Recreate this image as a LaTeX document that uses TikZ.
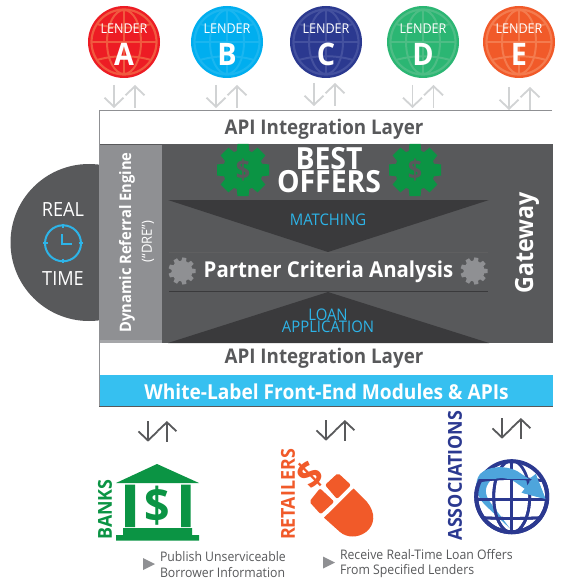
\documentclass[tikz,border=0pt]{standalone}
\usepackage{fontspec}
\usetikzlibrary{arrows.meta}
\setmainfont[FakeStretch=0.93]{Open Sans}
\definecolor{panel}{HTML}{58595B}
\definecolor{strip}{HTML}{8F9093}
\definecolor{tri}{HTML}{3A3A3C}
\definecolor{sky}{HTML}{2DB4E8}
\definecolor{band}{HTML}{36C0F0}
\definecolor{gr}{HTML}{0B9444}
\definecolor{org}{HTML}{F15A29}
\definecolor{nvy}{HTML}{2B3990}
\definecolor{lite}{HTML}{D1D3D4}
\definecolor{swoosh}{HTML}{4EA5DC}
\definecolor{la}{HTML}{ED1C24}\definecolor{lag}{HTML}{F1593F}
\definecolor{lb}{HTML}{00AEEF}\definecolor{lbg}{HTML}{1AB6F0}
\definecolor{lc}{HTML}{2B3990}\definecolor{lcg}{HTML}{44519F}
\definecolor{ld}{HTML}{2BB673}\definecolor{ldg}{HTML}{4DBD85}
\definecolor{le}{HTML}{F15A29}\definecolor{leg}{HTML}{F47B4E}
\newcommand{\fs}[1]{\fontsize{#1}{#1}\selectfont}
\tikzset{
 x=1pt,y=-1pt,
 every node/.style={inner sep=0pt,outer sep=0pt,align=center},
 lbl/.style={text=panel,font=\fs{20.2}\bfseries},
 wt/.style={text=white},
 blu/.style={text=sky,font=\fs{16}},
 side/.style={font=\fs{19.2}\bfseries,rotate=90},
 note/.style={text=panel,font=\fs{13.2},align=left,anchor=west},
 dual/.pic={
   \draw[#1,line width=1.8pt,-{Straight Barb[length=9pt,width=19pt]}] (0,0)--(0,23);
   \draw[#1,line width=1.8pt,-{Straight Barb[length=9pt,width=19pt]}] (21,23)--(21,0);},
 gearp/.pic={\fill[gr] (0,0) circle (20);
   \foreach \a in {0,45,...,315}{\fill[gr,rotate=\a] (17,-6.5)--(26,-5.5)--(26,5.5)--(17,6.5)--cycle;}
   \node[text=panel,font=\fs{27}\bfseries] at (0,0) {\$};},
 smgear/.pic={\fill[strip] (0,0) circle (10.5);
   \foreach \a in {0,40,...,320}{\fill[strip,rotate=\a] (9,-2.6)--(13.5,-2)--(13.5,2)--(9,2.6)--cycle;}},
}
\newcommand{\lendercirc}[6]{%
 \begin{scope}[shift={(#1,#2)}]
  \fill[#3] (0,0) circle (36);
  \draw[#4,line width=2.2pt] (0,0) circle (32.5);
  \draw[#4,line width=2pt] (0,-32)--(0,32) (-32,0)--(32,0);
  \draw[#4,line width=2pt] (0,0) ellipse (17 and 32);
  \draw[#4,line width=2pt] (-27,-18) .. controls (-10,-13) and (10,-13) .. (27,-18);
  \draw[#4,line width=2pt] (-27,18) .. controls (-10,13) and (10,13) .. (27,18);
  \node[wt,font=\fs{13.5}] (#5lab) at (0,-13) {LENDER};
  \node[wt,font=\fs{31}\bfseries] (#5let) at (0,12) {#6};
 \end{scope}}
\newcommand{\globegrid}{%
 \draw[nvy,line width=4pt] (0,0) circle (35.5);
 \draw[nvy,line width=2.8pt] (0,-36)--(0,36) (-35,3)--(35,3);
 \draw[nvy,line width=2.8pt] (0,0) ellipse (18 and 36);
 \draw[nvy,line width=2.8pt] (-31,-16) .. controls (-12,-19) and (12,-19) .. (31,-16);
 \draw[nvy,line width=2.8pt] (-30,21) .. controls (-12,22) and (12,22) .. (30,21);}
\begin{document}
\begin{tikzpicture}
\useasboundingbox (0,0) rectangle (574,580);
\fill[white] (0,0) rectangle (574,580);
% lenders
\lendercirc{124}{42}{la}{lag}{a}{A}
\lendercirc{227}{42}{lb}{lbg}{b}{B}
\lendercirc{326}{42}{lc}{lcg}{c}{C}
\lendercirc{423}{42}{ld}{ldg}{d}{D}
\lendercirc{519}{42}{le}{leg}{e}{E}
% top arrows
\path (114,85) pic {dual=lite} (216,85) pic {dual=lite} (314,83) pic {dual=lite} (412.5,85) pic {dual=lite} (509,87) pic {dual=lite};
% half circle
\begin{scope}
 \clip (0,150) rectangle (100,340);
 \fill[panel] (89,242.5) circle (78.5);
\end{scope}
% frame
\draw[strip,line width=1pt] (552,111)--(99,111)--(99,406);
% panel
\fill[panel] (99.5,144) rectangle (553,343);
\fill[strip] (100,145) rectangle (162,343);
\fill[strip!80!white] (100,340) rectangle (162,343);
\fill[tri] (168,200)--(489,200)--(328,252)--cycle;
\fill[tri] (168,343)--(489,343)--(328,292)--cycle;
\draw[line width=1pt,black!70!panel!70] (169,252)--(488,252);
\draw[line width=1pt,tri] (169,291.5)--(488,291.5);
% api layers
\node[lbl] (apitop) at (324,129.5) {API Integration Layer};
\node[lbl] (apibot) at (324,358.5) {API Integration Layer};
% band
\fill[band] (100,375) rectangle (553,406);
\draw[panel,line width=1pt] (99,406)--(553,406);
\node[wt,font=\fs{20.6}\bfseries] (wl) at (326.5,392) {White-Label Front-End Modules \& APIs};
% real time
\node[wt,font=\fs{19.5}] (real) at (63,210) {REAL};
\node[wt,font=\fs{19.5}] (time) at (63,279) {TIME};
\draw[sky,line width=2pt] (63,243.3) circle (18);
\draw[sky,line width=2pt] (63,223.5)--(63,228) (63,258.5)--(63,263) (43,243.3)--(47.5,243.3) (78.5,243.3)--(83,243.3);
\draw[sky,line width=1.6pt] (62,234)--(62,244)--(72,244);
% dre
\node[wt,font=\fs{15.8}\bfseries,rotate=90] (dre) at (127,242.5) {Dynamic Referral Engine};
\node[wt,font=\fs{14},rotate=90] (drep) at (148,241.5) {(“DRE”)};
% gateway
\node[wt,font=\fs{25}\bfseries,rotate=90] (gw) at (527,243) {Gateway};
% centre
\path (243,170) pic {gearp} (415,170) pic {gearp};
\node[wt,font=\fontsize{30.5}{23.5}\selectfont\bfseries] (best) at (329,170) {BEST\\OFFERS};
\node[blu] (match) at (328,220) {MATCHING};
\node[blu,font=\fontsize{16}{12}\selectfont] (loan) at (328,321) {LOAN\\APPLICATION};
\path (182,271) pic {smgear} (474,271) pic {smgear};
\node[wt,font=\fs{21.9}\bfseries] (pca) at (328.5,272) {Partner Criteria Analysis};
% bottom arrows
\path (148,421) pic[scale=0.9] {dual=panel} (326,420) pic[scale=0.9] {dual=panel} (502,418) pic[scale=0.9] {dual=panel};
% banks
\node[text=gr,side] (banks) at (105,509.5) {BANKS};
\fill[gr] (116,483)--(157,464)--(199,483)--cycle;
\fill[gr] (125,484.5) rectangle (135,527) (181,484.5) rectangle (190.5,527);
\fill[gr] (123,528) rectangle (192,535) (116,535) rectangle (199,540.5);
\node[text=gr,font=\fs{48}\bfseries] (dollar) at (157.5,505.5) {\$};
% retailers
\node[text=org,side] (ret) at (288,494.5) {RETAILERS};
\fill[org,rounded corners=2pt] (325,485)--(338,473)--(351,485)--(337,499)--cycle;
\fill[org,rounded corners=2pt] (309.3,501.7)--(320,488.3)--(334.3,501.7)--(320.7,514.3)--cycle;
\fill[org] (324,517.7)--(353.5,488.5)--(367,502) .. controls (376,513) and (375,525) .. (366,532) .. controls (358,538) and (347,538) .. (340,532)--cycle;
\node[text=org,font=\fs{38}\bfseries,rotate=45] (rd) at (310.5,475) {\$};
% associations
\node[text=nvy,side] (assoc) at (455,475.5) {ASSOCIATIONS};
\begin{scope}[shift={(511.7,496.7)}]
 \globegrid
\end{scope}
\fill[swoosh] (510,528.5) -- (485,505) .. controls (475,495) and (474,482) .. (480,474) .. controls (488,466) and (505,465) .. (517,471) -- (529,479) -- (535.7,474) -- (545.5,499) -- (521.7,492.7) -- (525,489) -- (515,482) .. controls (505,476) and (495,478) .. (490,481) .. controls (484,488) and (485,495) .. (490,502) -- cycle;
\begin{scope}
 \clip (470,479) rectangle (555,540);
 \begin{scope}[shift={(511.7,496.7)}]
  \globegrid
 \end{scope}
\end{scope}
\fill[swoosh] (535.7,474) -- (545.5,499) -- (521.7,492.7) -- cycle;
% notes
\fill[strip] (143,558)--(155,564)--(143,570)--cycle;
\node[note] (n1) at (160,564.5) {Publish Unserviceable\\[2pt]Borrower Information};
\fill[strip] (323,556.5)--(335,562.5)--(323,568.5)--cycle;
\node[note] (n2) at (340,563.5) {Receive Real-Time Loan Offers\\[2pt]From Specified Lenders};
\end{tikzpicture}
\end{document}
